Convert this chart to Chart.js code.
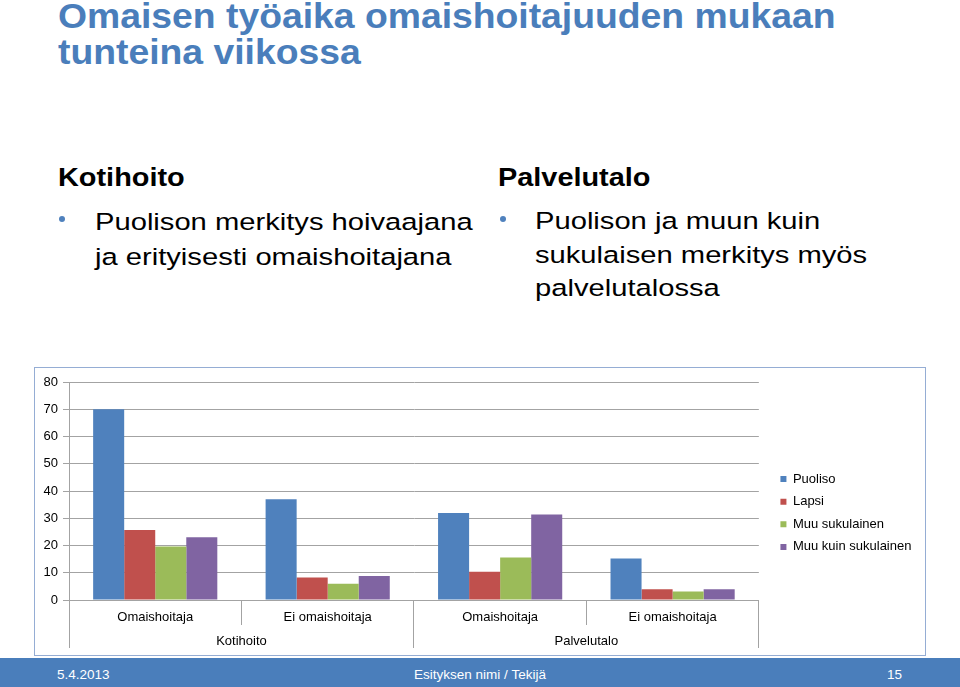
<!DOCTYPE html>
<html lang="fi">
<head>
<meta charset="utf-8">
<title>Omaisen työaika omaishoitajuuden mukaan</title>
<script src="https://cdn.jsdelivr.net/npm/chart.js"></script>
<style>
    html, body {
        margin: 0;
        padding: 0;
        width: 960px;
        height: 687px;
        overflow: hidden;
        background: #ffffff;
        font-family: "Liberation Sans", Arial, sans-serif;
    }
    .slide-title {
        position: absolute;
        left: 58px;
        top: -2px;
        margin: 0;
        font-size: 35px;
        line-height: 36px;
        font-weight: bold;
        color: #4a7ebb;
        white-space: nowrap;
        transform: scaleX(1.066);
        transform-origin: left top;
    }
    .col-head {
        position: absolute;
        top: 162px;
        margin: 0;
        font-size: 25px;
        line-height: 30px;
        font-weight: bold;
        color: #000;
        white-space: nowrap;
        transform: scaleX(1.155);
        transform-origin: left top;
    }
    .col-text {
        position: absolute;
        top: 204px;
        margin: 0;
        font-size: 24.5px;
        color: #000;
        white-space: nowrap;
        transform: scaleX(1.19);
        transform-origin: left top;
    }
    .bullet {
        position: absolute;
        width: 6px;
        height: 6px;
        border-radius: 50%;
        background: #4f81bd;
        top: 216px;
    }
    .chart-frame {
        position: absolute;
        left: 34px;
        top: 367px;
        width: 890px;
        height: 287px;
        border: 1px solid #95add4;
    }
    .footer {
        position: absolute;
        left: 0;
        top: 658px;
        width: 960px;
        height: 29px;
        background: #4a7ebb;
        color: #ffffff;
        font-size: 13.5px;
        line-height: 29px;
    }
    .footer span {
        position: absolute;
        top: 2px;
    }
</style>
</head>
<body>

<h1 class="slide-title">Omaisen työaika omaishoitajuuden mukaan<br>tunteina viikossa</h1>

<div class="col-head" style="left:58px;">Kotihoito</div>
<div class="bullet" style="left:59px;"></div>
<div class="col-text" style="left:95px; line-height:35px;">Puolison merkitys hoivaajana<br>ja erityisesti omaishoitajana</div>

<div class="col-head" style="left:498px;">Palvelutalo</div>
<div class="bullet" style="left:500px;"></div>
<div class="col-text" style="left:535px; line-height:33.5px;">Puolison ja muun kuin<br>sukulaisen merkitys myös<br>palvelutalossa</div>

<div class="chart-frame">
    <canvas id="work-hours-chart"></canvas>
</div>

<div class="footer">
    <span style="left:57px;">5.4.2013</span>
    <span style="left:0; width:960px; text-align:center;">Esityksen nimi / Tekijä</span>
    <span style="left:887px;">15</span>
</div>

<script>
// Chart data (hours per week)
const subCategories = ['Omaishoitaja', 'Ei omaishoitaja', 'Omaishoitaja', 'Ei omaishoitaja'];
const groupCategories = ['Kotihoito', 'Palvelutalo'];
const puoliso = [70, 37, 31.9, 15.2];
const lapsi = [25.7, 8.3, 10.4, 3.9];
const muuSukulainen = [19.6, 6.0, 15.6, 3.1];
const muuKuinSukulainen = [23.0, 8.8, 31.4, 3.9];
const yTickStep = 10;
const yMax = 80;

const gridColor = '#a3a3a3';

let workChart = null;

document.addEventListener('DOMContentLoaded', () => {
    initializeChart();
});

// Build one bar dataset
function makeDataset(label, data, color) {
    return {
        label: label,
        data: data,
        backgroundColor: color,
        borderWidth: 0,
        xAxisID: 'x',
        yAxisID: 'y',
        categoryPercentage: 0.72,
        barPercentage: 1.0
    };
}

function initializeChart() {
    Chart.defaults.font.family = '"Liberation Sans", Arial, sans-serif';
    Chart.defaults.color = '#000000';

    const ctx = document.getElementById('work-hours-chart').getContext('2d');

    workChart = new Chart(ctx, {
        type: 'bar',
        data: {
            labels: subCategories,
            datasets: [
                makeDataset('Puoliso', puoliso, '#4f81bd'),
                makeDataset('Lapsi', lapsi, '#c0504d'),
                makeDataset('Muu sukulainen', muuSukulainen, '#9bbb59'),
                makeDataset('Muu kuin sukulainen', muuKuinSukulainen, '#8064a2')
            ]
        },
        options: {
            responsive: true,
            maintainAspectRatio: false,
            animation: false,
            layout: {
                padding: { top: 14, right: 7, bottom: 0, left: 0 }
            },
            scales: {
                y: {
                    min: 0,
                    max: yMax,
                    ticks: {
                        stepSize: yTickStep,
                        padding: 5,
                        font: { size: 13 }
                    },
                    grid: {
                        color: gridColor,
                        tickLength: 6
                    },
                    border: { color: gridColor },
                    afterFit: (scale) => { scale.width = 34; }
                },
                // spacer between plot and legend
                y2: {
                    position: 'right',
                    display: true,
                    ticks: { display: false },
                    grid: { drawOnChartArea: false, drawTicks: false },
                    border: { display: false },
                    afterFit: (scale) => { scale.width = 12; }
                },
                x: {
                    position: 'bottom',
                    offset: true,
                    ticks: {
                        autoSkip: false,
                        maxRotation: 0,
                        padding: -15,
                        font: { size: 13 }
                    },
                    grid: {
                        offset: true,
                        drawOnChartArea: false,
                        tickLength: 25,
                        color: gridColor
                    },
                    border: { color: gridColor },
                    afterFit: (scale) => { scale.height = 25; }
                },
                x2: {
                    type: 'category',
                    position: 'bottom',
                    labels: groupCategories,
                    offset: true,
                    ticks: {
                        autoSkip: false,
                        maxRotation: 0,
                        padding: -14,
                        font: { size: 13 }
                    },
                    grid: {
                        offset: true,
                        drawOnChartArea: false,
                        tickLength: 23,
                        color: gridColor
                    },
                    border: { display: false },
                    afterFit: (scale) => { scale.height = 30; }
                }
            },
            plugins: {
                legend: {
                    position: 'right',
                    align: 'start',
                    // empty title used as top spacer for the legend items
                    title: {
                        display: true,
                        text: '',
                        font: { size: 13 },
                        padding: { top: 65.4, bottom: 0 }
                    },
                    labels: {
                        boxWidth: 6,
                        boxHeight: 6,
                        padding: 9.6,
                        color: '#000000',
                        font: { size: 13 }
                    }
                },
                tooltip: { enabled: false }
            }
        }
    });
}
</script>
</body>
</html>
